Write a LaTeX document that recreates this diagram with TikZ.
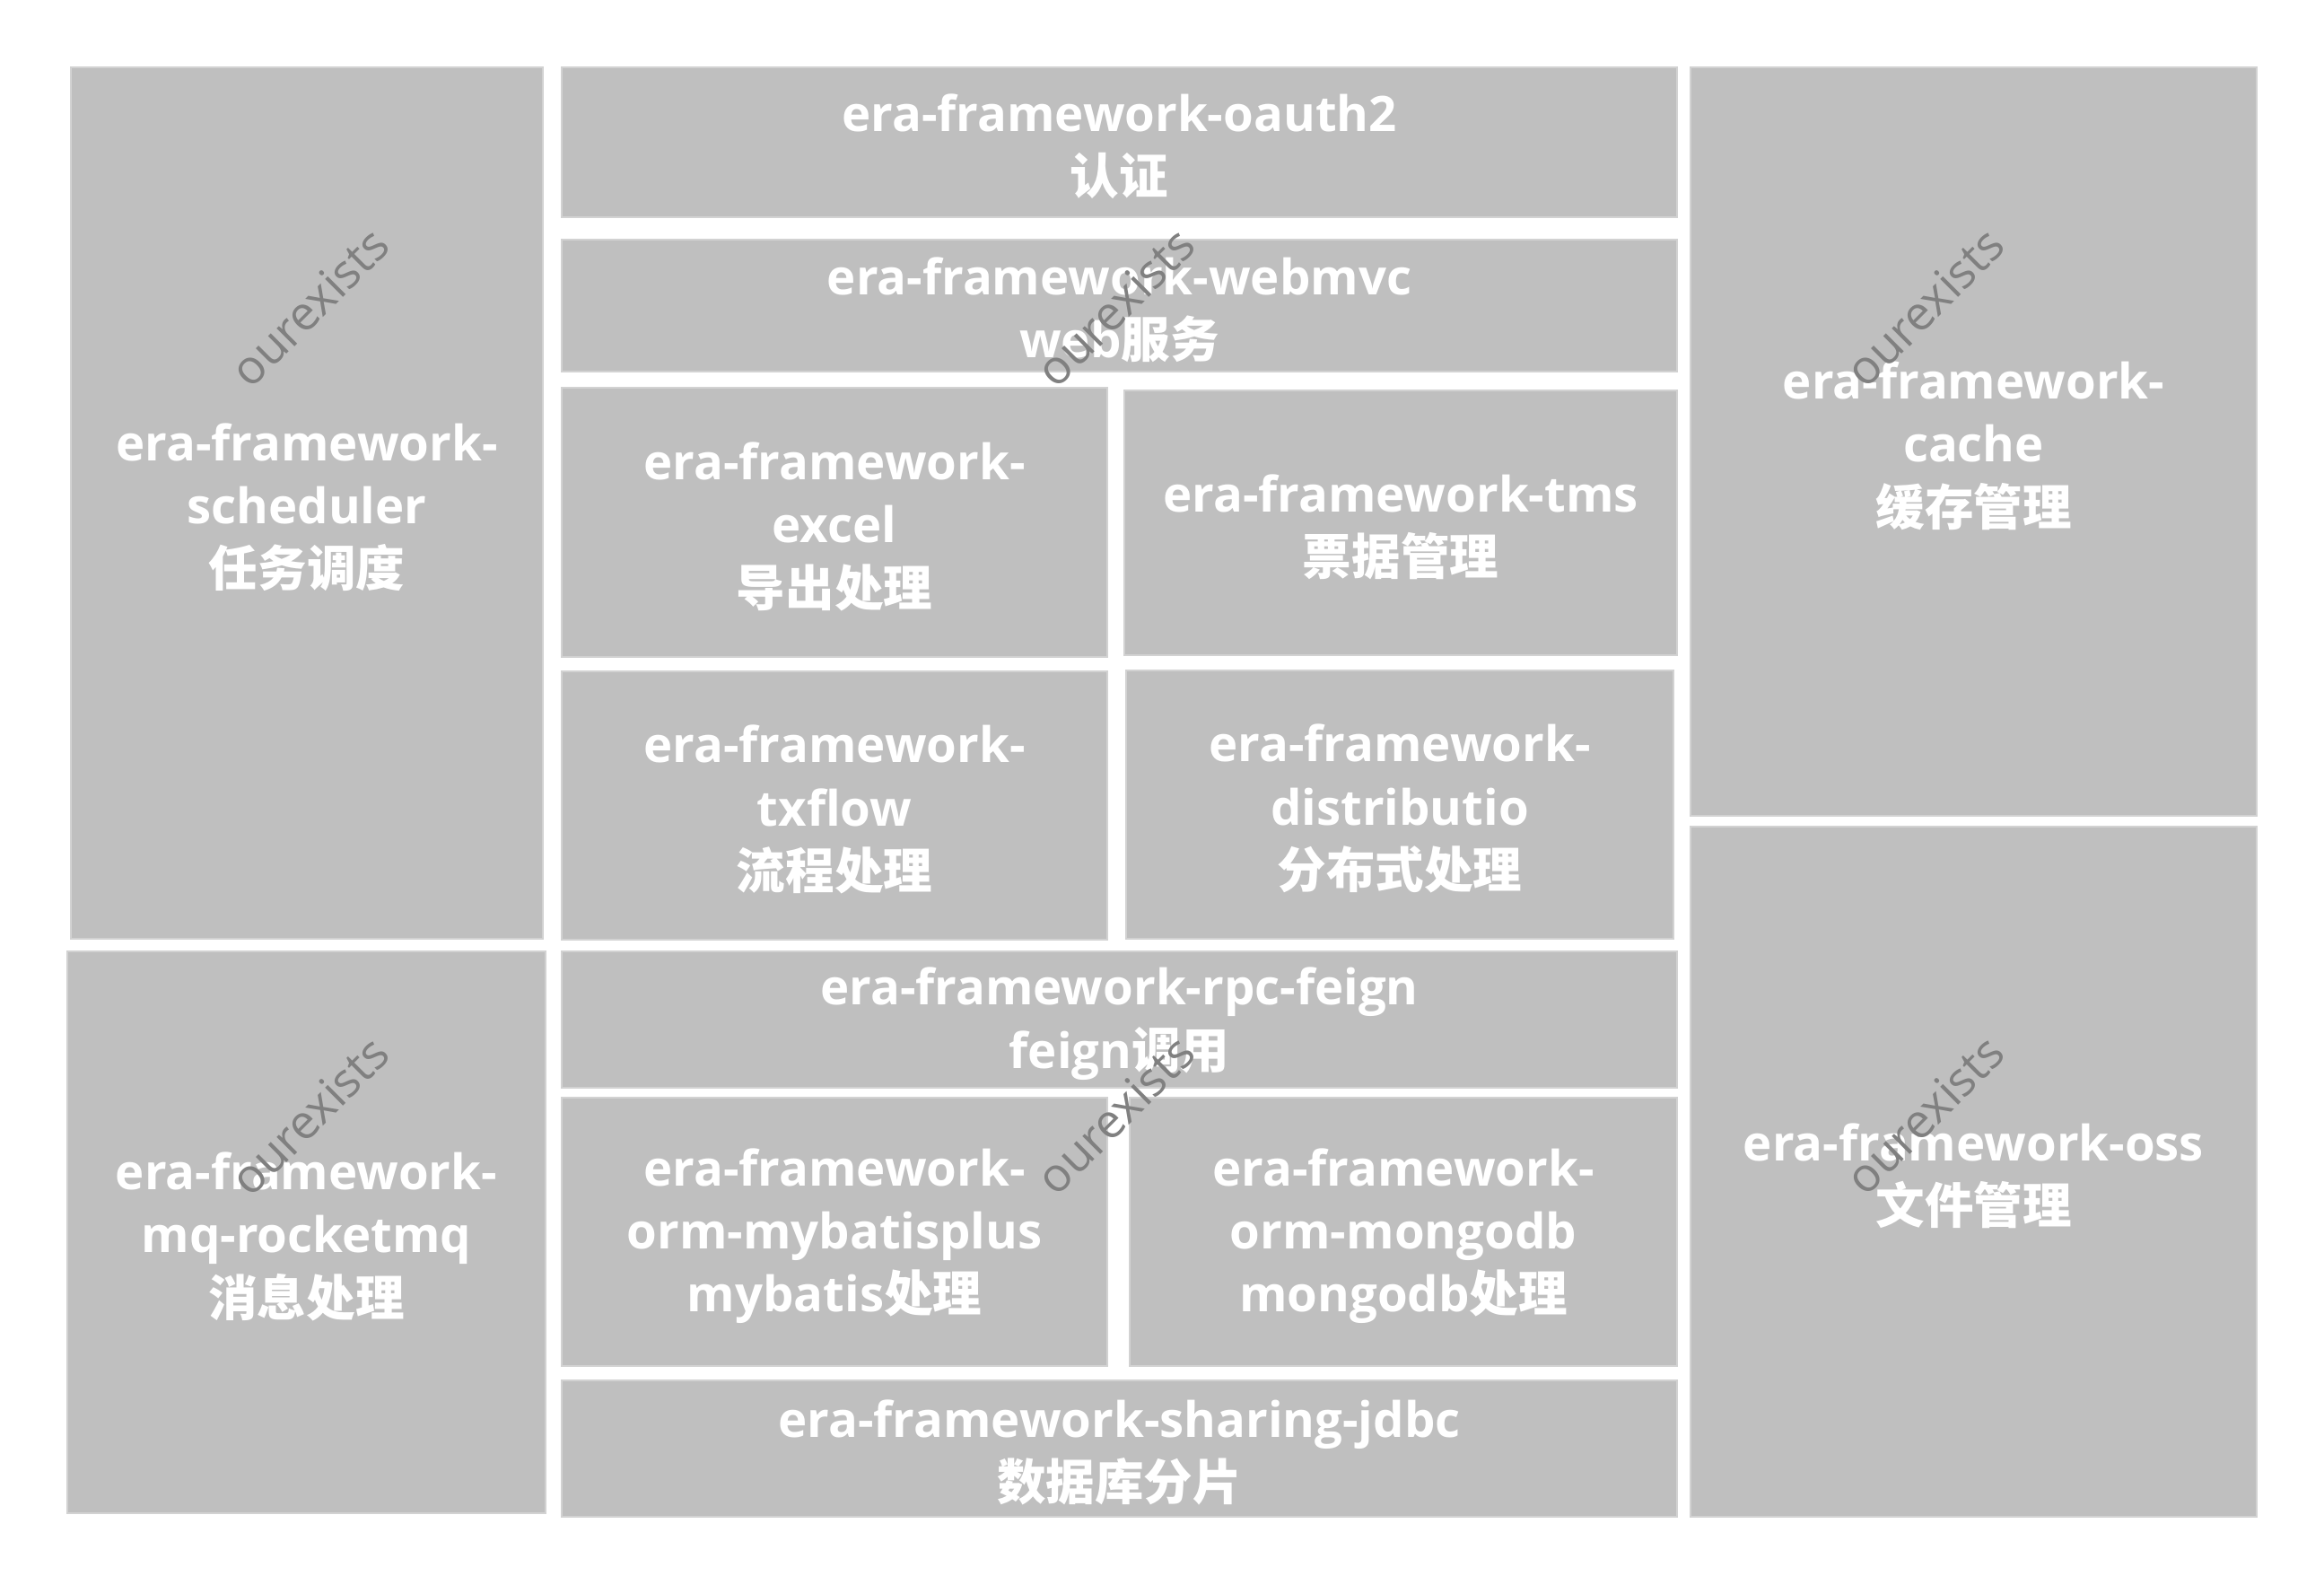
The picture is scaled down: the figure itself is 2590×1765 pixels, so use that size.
\documentclass[tikz,border=0pt]{standalone}
\usepackage{fontspec}
\setmainfont{Open Sans}
\newfontfamily\cjk{Noto Sans CJK SC}
\usetikzlibrary{fit}

\tikzset{
  modbox/.style={rectangle, fill=gray!50, draw=gray!35, line width=0.5pt, inner sep=0pt},
  modtext/.style={inner sep=0pt, text=white, align=center, yshift=-1.3pt,
    font=\fontsize{15.5}{20}\selectfont\bfseries},
  wmark/.style={text=gray, rotate=45, inner sep=0pt,
    font=\fontsize{15}{18}\selectfont}
}

\begin{document}
\begin{tikzpicture}[x=0.01cm, y=-0.01cm]
\useasboundingbox (0,0) rectangle (2590,1765);

% left column
\node[modbox, fit={(79,75) (605,1046)}] (sched) {};
\node[modtext] (schedtxt) at (sched.center) {era-framework-\\scheduler\\{\cjk 任务调度}};
\node[modbox, fit={(75,1060) (608,1686)}] (rocketmq) {};
\node[modtext] (rocketmqtxt) at (rocketmq.center) {era-framework-\\mq-rocketmq\\{\cjk 消息处理}};

% middle column
\node[modbox, fit={(626,75) (1869,242)}] (oauth) {};
\node[modtext] (oauthtxt) at (oauth.center) {era-framework-oauth2\\{\cjk 认证}};
\node[modbox, fit={(626,267) (1869,414)}] (webmvc) {};
\node[modtext] (webmvctxt) at (webmvc.center) {era-framework-webmvc\\web{\cjk 服务}};
\node[modbox, fit={(626,432) (1234,732)}] (excel) {};
\node[modtext] (exceltxt) at (excel.center) {era-framework-\\excel\\{\cjk 导出处理}};
\node[modbox, fit={(1253,435) (1869,730)}] (tms) {};
\node[modtext] (tmstxt) at (tms.center) {era-framework-tms\\{\cjk 票据管理}};
\node[modbox, fit={(626,748) (1234,1047)}] (txflow) {};
\node[modtext] (txflowtxt) at (txflow.center) {era-framework-\\txflow\\{\cjk 流程处理}};
\node[modbox, fit={(1255,747) (1865,1046)}] (distrib) {};
\node[modtext] (distribtxt) at (distrib.center) {era-framework-\\distributio\\{\cjk 分布式处理}};
\node[modbox, fit={(626,1060) (1869,1212)}] (feign) {};
\node[modtext] (feigntxt) at (feign.center) {era-framework-rpc-feign\\feign{\cjk 调用}};
\node[modbox, fit={(626,1223) (1234,1522)}] (mybatis) {};
\node[modtext] (mybatistxt) at (mybatis.center) {era-framework-\\orm-mybatisplus\\mybatis{\cjk 处理}};
\node[modbox, fit={(1259,1223) (1869,1522)}] (mongodb) {};
\node[modtext] (mongodbtxt) at (mongodb.center) {era-framework-\\orm-mongodb\\mongodb{\cjk 处理}};
\node[modbox, fit={(626,1538) (1869,1690)}] (sharding) {};
\node[modtext] (shardingtxt) at (sharding.center) {era-framework-sharing-jdbc\\{\cjk 数据库分片}};

% right column
\node[modbox, fit={(1884,75) (2515,909)}] (cache) {};
\node[modtext] (cachetxt) at (cache.center) {era-framework-\\cache\\{\cjk 缓存管理}};
\node[modbox, fit={(1884,921) (2515,1690)}] (oss) {};
\node[modtext] (osstxt) at (oss.center) {era-framework-oss\\{\cjk 文件管理}};

% watermarks
\node[wmark] (wmA) at (345,342) {ourexists};
\node[wmark] (wmB) at (1243,342) {ourexists};
\node[wmark] (wmC) at (2145,342) {ourexists};
\node[wmark] (wmD) at (345,1243) {ourexists};
\node[wmark] (wmE) at (1243,1242) {ourexists};
\node[wmark] (wmF) at (2145,1242) {ourexists};
\end{tikzpicture}
\end{document}
